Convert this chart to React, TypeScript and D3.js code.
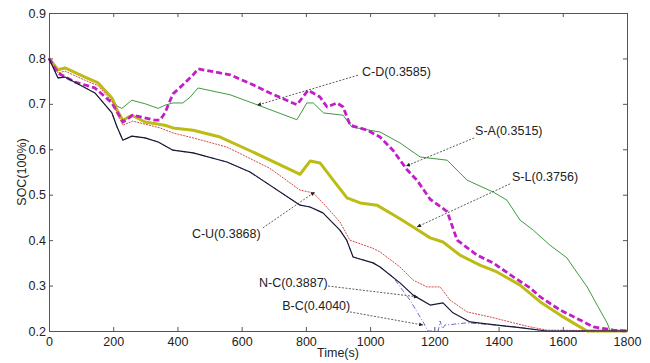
import * as d3 from 'd3';
import * as React from 'react';

// [time (s), SOC]
const saSoc = [
  [0, 0.8], [28, 0.775], [50, 0.779], [112, 0.759], [153, 0.748], [196, 0.715], [212, 0.695], [227, 0.69],
  [258, 0.708], [300, 0.7], [340, 0.69], [361, 0.697], [386, 0.702], [417, 0.702], [440, 0.715], [464, 0.735],
  [564, 0.72], [648, 0.698], [772, 0.665], [803, 0.702], [823, 0.702], [855, 0.68], [916, 0.675], [943, 0.649],
  [1031, 0.638], [1093, 0.614], [1156, 0.583], [1240, 0.576], [1302, 0.532], [1383, 0.506], [1426, 0.488],
  [1467, 0.444], [1508, 0.422], [1560, 0.389], [1613, 0.361], [1632, 0.341], [1676, 0.297], [1707, 0.257],
  [1738, 0.218], [1748, 0.2], [1800, 0.2],
];
const cdSoc = [
  [0, 0.8], [28, 0.768], [81, 0.748], [143, 0.735], [196, 0.702], [230, 0.66], [261, 0.675], [330, 0.664],
  [346, 0.664], [361, 0.68], [386, 0.722], [417, 0.742], [449, 0.764], [464, 0.777], [564, 0.764], [635, 0.742],
  [688, 0.724], [772, 0.698], [807, 0.73], [844, 0.715], [866, 0.693], [897, 0.702], [916, 0.693], [938, 0.653],
  [991, 0.642], [1031, 0.627], [1071, 0.598], [1115, 0.555], [1146, 0.532], [1187, 0.49], [1240, 0.463],
  [1271, 0.4], [1333, 0.367], [1383, 0.35], [1446, 0.319], [1498, 0.295], [1530, 0.275], [1592, 0.246],
  [1654, 0.224], [1696, 0.209], [1758, 0.202], [1800, 0.2],
];
const slSoc = [
  [0, 0.8], [28, 0.775], [50, 0.779], [112, 0.759], [153, 0.746], [196, 0.713], [212, 0.686], [230, 0.664],
  [258, 0.675], [299, 0.66], [361, 0.653], [386, 0.647], [449, 0.642], [533, 0.627], [635, 0.594], [751, 0.555],
  [782, 0.545], [813, 0.574], [844, 0.57], [885, 0.532], [928, 0.493], [969, 0.482], [1021, 0.477], [1084, 0.451],
  [1134, 0.429], [1187, 0.405], [1227, 0.396], [1280, 0.367], [1342, 0.345], [1395, 0.33], [1467, 0.301],
  [1530, 0.264], [1592, 0.235], [1644, 0.213], [1676, 0.2], [1800, 0.2],
];
const cuSoc = [
  [0, 0.8], [28, 0.768], [50, 0.772], [112, 0.752], [153, 0.74], [196, 0.706], [212, 0.68], [230, 0.653],
  [261, 0.662], [346, 0.647], [386, 0.636], [449, 0.625], [554, 0.605], [688, 0.558], [782, 0.51], [823, 0.504],
  [853, 0.482], [906, 0.44], [937, 0.4], [1009, 0.382], [1031, 0.374], [1093, 0.341], [1134, 0.312],
  [1177, 0.297], [1218, 0.297], [1249, 0.268], [1302, 0.242], [1373, 0.231], [1446, 0.218], [1498, 0.209],
  [1551, 0.202], [1800, 0.2],
];
const ncSoc = [
  [0, 0.8], [28, 0.757], [50, 0.759], [143, 0.724], [196, 0.68], [212, 0.649], [230, 0.62], [258, 0.629],
  [299, 0.625], [340, 0.616], [386, 0.598], [449, 0.592], [554, 0.572], [626, 0.55], [782, 0.477], [813, 0.473],
  [853, 0.46], [906, 0.422], [927, 0.4], [947, 0.363], [1009, 0.35], [1031, 0.341], [1093, 0.306], [1134, 0.279],
  [1187, 0.257], [1227, 0.262], [1258, 0.24], [1311, 0.22], [1395, 0.213], [1446, 0.209], [1551, 0.2], [1800, 0.2],
];
const bcSoc = [
  [0, 0.8], [28, 0.757], [50, 0.759], [143, 0.724], [196, 0.68], [212, 0.649], [230, 0.62], [258, 0.629],
  [299, 0.625], [340, 0.616], [386, 0.598], [449, 0.592], [554, 0.572], [626, 0.55], [782, 0.477], [813, 0.473],
  [853, 0.46], [906, 0.422], [927, 0.4], [947, 0.363], [1009, 0.35], [1031, 0.341], [1071, 0.319], [1124, 0.268],
  [1165, 0.22], [1180, 0.2], [1212, 0.2], [1218, 0.222], [1225, 0.205], [1233, 0.213], [1302, 0.218],
  [1395, 0.213], [1477, 0.207], [1540, 0.2], [1800, 0.2],
];

const timeTicks = [0, 200, 400, 600, 800, 1000, 1200, 1400, 1600, 1800];
const socTicks = [0.2, 0.3, 0.4, 0.5, 0.6, 0.7, 0.8, 0.9];

// label, label anchor (t, soc), arrow start (t, soc), arrow tip (t, soc)
const notes = [
  ['C-D(0.3585)', 975, 0.77, 962, 0.763, 648, 0.697],
  ['S-A(0.3515)', 1327, 0.64, 1324, 0.625, 1112, 0.563],
  ['S-L(0.3756)', 1442, 0.539, 1436, 0.524, 1146, 0.429],
  ['C-U(0.3868)', 445, 0.414, 666, 0.427, 828, 0.506],
  ['N-C(0.3887)', 654, 0.306, 869, 0.299, 1149, 0.275],
  ['B-C(0.4040)', 726, 0.255, 937, 0.242, 1165, 0.213],
];

const lines = [
  { data: saSoc, color: '#3f9a3f', width: 1, dash: null },
  { data: slSoc, color: '#bcbc14', width: 3, dash: null },
  { data: cdSoc, color: '#c21ec8', width: 2.8, dash: '6,3' },
  { data: cuSoc, color: '#d44a4a', width: 1, dash: '2,1' },
  { data: bcSoc, color: '#6b6bd6', width: 1, dash: '5,2,1,2' },
  { data: ncSoc, color: '#181830', width: 1.2, dash: null },
];

const App = () => {
  const ref = React.useRef<SVGSVGElement | null>(null);

  React.useEffect(() => {
    if (!ref.current) return;
    const svg = d3.select(ref.current);
    svg.selectAll('*').remove();

    const margin = { top: 13, right: 23, bottom: 32, left: 49 };
    const width = 650 - margin.left - margin.right;
    const height = 363 - margin.top - margin.bottom;
    const font = 'Arial, "Liberation Sans", sans-serif';

    const x = d3.scaleLinear().domain([0, 1800]).range([0, width]);
    const y = d3.scaleLinear().domain([0.2, 0.9]).range([height, 0]);

    const defs = svg.append('defs');
    defs
      .append('marker')
      .attr('id', 'tip')
      .attr('viewBox', '0 0 10 10')
      .attr('refX', 10)
      .attr('refY', 5)
      .attr('markerWidth', 6)
      .attr('markerHeight', 5)
      .attr('orient', 'auto')
      .append('path')
      .attr('d', 'M0,0L10,5L0,10z')
      .attr('fill', '#222');

    const g = svg.append('g').attr('transform', `translate(${margin.left},${margin.top})`);

    const styleAxis = (sel) => {
      sel.select('.domain').attr('stroke', '#555');
      sel.selectAll('.tick line').attr('stroke', '#555');
      sel.selectAll('.tick text').attr('fill', '#222').style('font-family', font).style('font-size', '12.5px');
    };

    g.append('g')
      .attr('transform', `translate(0,${height})`)
      .call(d3.axisBottom(x).tickValues(timeTicks).tickSize(-4).tickPadding(6).tickSizeOuter(0).tickFormat(d3.format('d')))
      .call(styleAxis);
    g.append('g')
      .call(d3.axisTop(x).tickValues(timeTicks).tickSize(-4).tickSizeOuter(0).tickFormat(() => ''))
      .call(styleAxis);
    g.append('g')
      .call(d3.axisLeft(y).tickValues(socTicks).tickSize(-4).tickPadding(3).tickSizeOuter(0).tickFormat(d3.format('.1f')))
      .call(styleAxis);
    g.append('g')
      .attr('transform', `translate(${width},0)`)
      .call(d3.axisRight(y).tickValues(socTicks).tickSize(-4).tickSizeOuter(0).tickFormat(() => ''))
      .call(styleAxis);

    const line = d3
      .line()
      .x((d) => x(d[0]))
      .y((d) => y(d[1]));

    lines.forEach((s) => {
      g.append('path')
        .datum(s.data)
        .attr('fill', 'none')
        .attr('stroke', s.color)
        .attr('stroke-width', s.width)
        .attr('stroke-dasharray', s.dash)
        .attr('stroke-linejoin', 'round')
        .attr('d', line);
    });

    notes.forEach((n) => {
      g.append('line')
        .attr('x1', x(n[3]))
        .attr('y1', y(n[4]))
        .attr('x2', x(n[5]))
        .attr('y2', y(n[6]))
        .attr('stroke', '#333')
        .attr('stroke-width', 0.8)
        .attr('stroke-dasharray', '2,1.5')
        .attr('marker-end', 'url(#tip)');
      g.append('text')
        .attr('x', x(n[1]))
        .attr('y', y(n[2]))
        .attr('dy', '0.35em')
        .attr('fill', '#222')
        .style('font-family', font)
        .style('font-size', '12.5px')
        .text(n[0]);
    });

    svg.append('text')
      .attr('x', margin.left + width / 2)
      .attr('y', 357)
      .attr('text-anchor', 'middle')
      .attr('fill', '#222')
      .style('font-family', font)
      .style('font-size', '12.5px')
      .text('Time(s)');

    svg.append('text')
      .attr('transform', `translate(26,${margin.top + height / 2}) rotate(-90)`)
      .attr('text-anchor', 'middle')
      .attr('fill', '#222')
      .style('font-family', font)
      .style('font-size', '12.5px')
      .text('SOC(100%)');
  }, []);

  return (
    <div style={{ position: 'absolute', left: 0, top: 0, background: '#fff' }}>
      <svg ref={ref} width={650} height={363} />
    </div>
  );
};

export default App;
